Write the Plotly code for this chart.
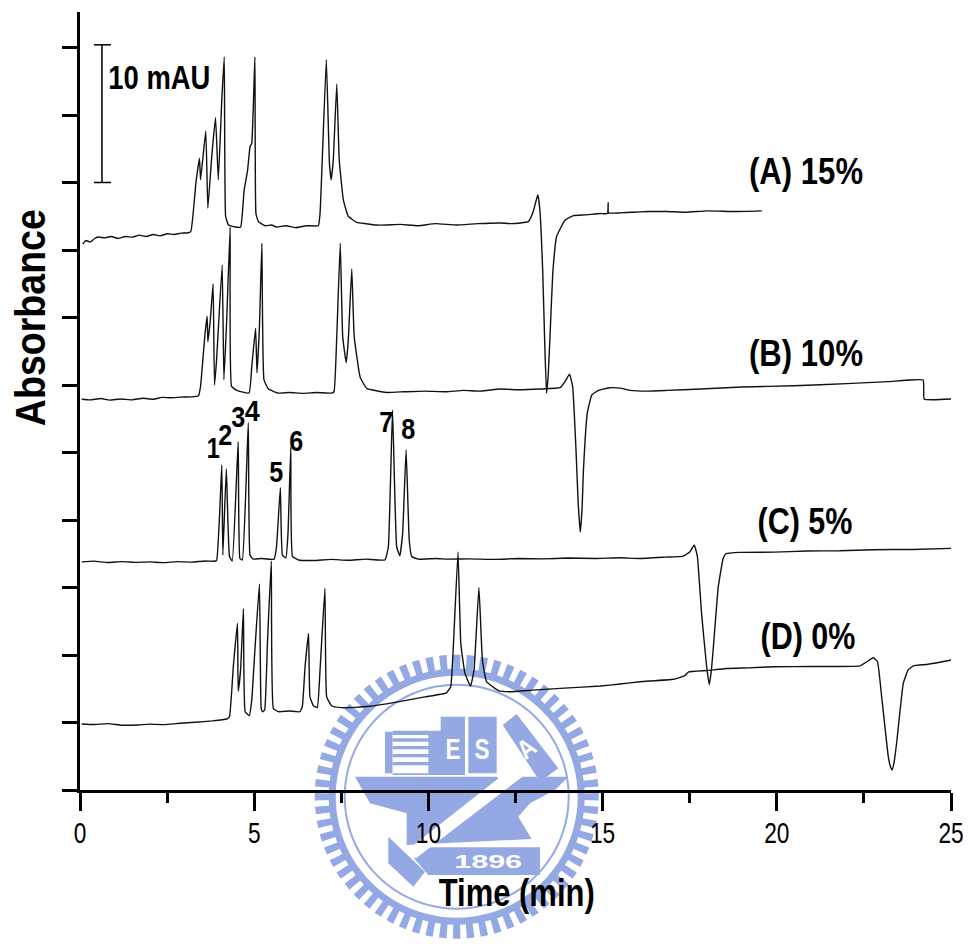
import math
import plotly.graph_objects as go

# ---- Electropherogram traces: time (min), absorbance (mAU, stacked offset) ----
time_a = [0.08,0.16,0.3,0.42,0.52,0.7,0.9,1.1,1.3,1.5,1.7,1.9,2.1,2.3,2.5,2.7,2.9,3.07,3.18,3.33,3.43,3.46,3.61,3.67,3.78,3.89,3.97,4.07,4.14,4.18,4.26,4.45,4.61,4.71,4.81,4.88,4.93,5.02,5.05,5.12,5.31,5.5,5.64,5.9,6.2,6.5,6.84,6.89,7.07,7.16,7.21,7.27,7.37,7.44,7.56,7.70,7.94,8.2,8.5,8.8,9.2,9.7,10.2,10.8,11.4,12.06,12.4,12.87,13.01,13.14,13.2,13.28,13.34,13.39,13.44,13.49,13.57,13.68,13.92,14.16,14.5,14.93,15.14,15.16,15.17,15.5,15.88,16.3,16.84,17.4,18.0,18.8,19.57]
abs_a = [40.44,40.7,40.6,40.85,40.96,40.9,41.0,40.85,41.0,40.95,41.1,41.0,41.15,41.05,41.2,41.15,41.25,41.26,41.36,45.06,46.8,45.2,48.8,43.1,46.9,49.8,45.2,51.1,54.3,42.5,41.85,41.7,41.7,44.4,45.9,47.65,47.9,54.3,42.7,42.1,41.8,41.85,41.7,41.8,41.65,41.8,41.8,42.7,54.1,46.4,45.2,46.7,52.3,46.7,43.7,42.5,42.05,41.95,41.85,41.85,41.9,41.8,41.95,41.85,41.95,42.0,41.95,42.1,42.85,44.1,42.96,38.5,33.0,29.4,30.8,33.6,38.3,41.0,42.2,42.55,42.6,42.7,42.7,43.5,42.75,42.75,42.8,42.85,42.85,42.8,42.9,42.85,42.9]

time_b = [0.05,0.3,0.6,0.85,1.15,1.5,1.8,2.1,2.35,2.58,2.9,3.2,3.40,3.46,3.59,3.65,3.67,3.74,3.82,3.86,3.92,4.08,4.13,4.21,4.31,4.35,4.50,4.85,4.93,5.04,5.08,5.15,5.22,5.28,5.41,5.69,6.0,6.4,6.8,7.22,7.29,7.37,7.47,7.54,7.64,7.70,7.80,7.87,8.04,8.23,8.80,9.3,9.9,10.5,11.0,11.5,12.06,12.6,13.2,13.78,13.92,14.05,14.14,14.24,14.30,14.36,14.41,14.45,14.56,14.69,14.88,15.21,15.55,15.79,16.3,16.84,17.8,19.0,20.5,22.0,23.2,24.2,24.23,25.0]
abs_b = [28.95,28.9,29.0,28.88,28.96,28.9,29.02,28.95,29.08,29.06,29.1,29.12,29.2,29.9,33.85,35.1,33.2,34.8,37.5,30.0,31.85,38.9,30.4,34.8,41.7,29.9,29.6,29.4,31.35,34.2,30.9,34.3,40.5,30.4,29.7,29.4,29.45,29.38,29.45,29.4,29.5,33.6,40.5,33.6,31.65,33.3,38.6,33.6,30.6,29.75,29.45,29.5,29.55,29.5,29.6,29.55,29.7,29.65,29.7,29.8,30.25,30.8,29.9,25.0,21.2,19.1,20.8,23.7,27.9,29.26,29.6,29.8,29.75,29.6,29.55,29.6,29.7,29.85,29.95,30.1,30.25,30.37,28.96,28.96]

time_c = [0.05,0.4,0.8,1.2,1.6,2.0,2.4,2.8,3.2,3.6,3.83,3.92,4.07,4.10,4.20,4.29,4.37,4.54,4.59,4.66,4.83,4.88,4.97,5.2,5.57,5.64,5.75,5.81,5.91,5.97,6.05,6.10,6.27,6.7,7.2,7.7,8.2,8.75,8.85,8.97,9.09,9.18,9.26,9.36,9.45,9.52,9.71,10.2,10.57,11.2,11.9,12.6,13.3,14.0,14.8,15.5,16.07,16.8,17.32,17.51,17.63,17.72,17.84,17.98,18.06,18.12,18.18,18.32,18.46,18.54,18.94,19.9,20.86,21.8,22.77,23.9,25.0]
abs_c = [16.9,16.95,16.85,16.92,16.86,16.9,16.84,16.92,16.88,16.96,16.94,17.0,24.07,17.4,23.8,17.3,16.96,25.8,17.15,17.04,27.2,17.4,17.1,17.15,17.1,18.0,22.4,17.4,17.2,19.0,25.4,17.3,17.04,17.0,17.08,17.02,17.1,17.04,18.0,28.15,18.0,17.35,19.0,25.2,18.5,17.3,17.1,17.15,17.1,17.12,17.08,17.15,17.12,17.18,17.15,17.2,17.15,17.25,17.33,17.65,18.15,17.3,13.1,9.3,7.8,8.8,10.6,15.05,17.15,17.5,17.6,17.62,17.7,17.72,17.8,17.82,17.9]

time_d = [0.05,0.4,0.8,1.2,1.63,2.0,2.4,2.87,3.3,3.8,4.21,4.29,4.40,4.52,4.54,4.61,4.69,4.74,4.86,4.93,5.02,5.15,5.20,5.24,5.30,5.38,5.49,5.55,5.69,6.0,6.31,6.38,6.46,6.56,6.60,6.70,6.81,6.89,7.03,7.08,7.22,7.51,7.9,8.32,8.8,9.28,9.9,10.52,10.64,10.72,10.85,10.93,11.05,11.21,11.31,11.45,11.55,11.67,12.01,12.34,13.0,13.9,14.93,15.5,16.07,17.03,17.36,17.46,18.0,18.56,19.2,19.9,21.0,22.39,22.58,22.77,22.89,23.01,23.2,23.26,23.31,23.37,23.44,23.63,23.77,23.92,24.3,24.68,25.0]
abs_d = [4.89,4.85,4.92,4.8,4.81,4.88,4.84,4.94,5.02,5.12,5.26,5.43,9.13,12.35,7.33,8.9,13.43,5.8,5.5,6.67,10.37,15.26,6.05,5.8,5.93,10.87,16.96,6.05,5.8,5.85,5.8,6.17,9.13,11.6,6.9,6.24,6.1,8.9,14.94,6.9,6.24,6.1,6.12,6.2,6.38,6.6,6.9,7.2,7.65,10.85,17.63,10.85,8.64,7.7,8.9,15.0,9.63,8.02,7.36,7.28,7.4,7.55,7.7,7.85,8.02,8.2,8.47,8.74,8.85,9.0,9.05,9.13,9.15,9.2,9.5,9.8,9.5,6.9,2.47,1.75,1.48,2.1,3.5,7.9,8.9,9.2,9.3,9.46,9.63]

scale_time = [0.40, 0.89, None, 0.63, 0.63, None, 0.40, 0.89]
scale_abs = [55.2, 55.2, None, 55.2, 45.0, None, 45.0, 45.0]

x_ticks = [0, 5, 10, 15, 20, 25]
peak_labels = ["1", "2", "3", "4", "5", "6", "7", "8"]
peak_label_time = [3.82, 4.19, 4.56, 4.94, 5.65, 6.2, 8.8, 9.44]
peak_label_abs = [25.4, 26.3, 27.7, 28.1, 23.6, 25.9, 27.3, 26.8]
series_labels = ["(A) 15%", "(B) 10%", "(C) 5%", "(D) 0%"]
series_label_time = [20.83, 20.85, 20.81, 20.9]
series_label_abs = [45.8, 32.3, 19.9, 11.4]

# ---- page geometry ----
W, H = 969, 948
L, R, T, B = 80, 951, 12, 790
SANS = "Liberation Sans, Arial, sans-serif"
WM = "#94A9E4"

def xp(px):
    return (px - L) / (R - L)

def yp(py):
    return (B - py) / (B - T)

def zoom_pt(zx, zy):
    return 310 + zx / 3, 640 + zy / 3

def poly(points):
    s = []
    for i, (zx, zy) in enumerate(points):
        px, py = zoom_pt(zx, zy)
        s.append(("M" if i == 0 else "L") + f"{xp(px):.5f},{yp(py):.5f}")
    return " ".join(s) + " Z"

def circle_path(r, n=96, cx=456.7, cy=796.7):
    s = []
    for i in range(n):
        a = 2 * math.pi * i / n
        s.append(("M" if i == 0 else "L") + f"{xp(cx + r * math.cos(a)):.5f},{yp(cy + r * math.sin(a)):.5f}")
    return " ".join(s) + " Z"

def teeth_path(r0, r1, count=64, cx=456.7, cy=796.7):
    parts = []
    for i in range(count):
        a = 2 * math.pi * i / count
        d = 2 * math.pi / count * 0.27
        pts = [(r0, a - d), (r1, a - d), (r1, a + d), (r0, a + d)]
        s = []
        for j, (r, t) in enumerate(pts):
            s.append(("M" if j == 0 else "L") + f"{xp(cx + r * math.cos(t)):.5f},{yp(cy + r * math.sin(t)):.5f}")
        parts.append(" ".join(s) + " Z")
    return " ".join(parts)

def wm_shape(path, color=WM, rule="evenodd"):
    return dict(type="path", xref="paper", yref="paper", path=path, fillcolor=color,
                line=dict(width=0), layer="below", fillrule=rule)

shapes = [
    wm_shape(teeth_path(124, 142)),
    wm_shape(circle_path(128) + " " + circle_path(121)),
    wm_shape(circle_path(113) + " " + circle_path(111)),
    wm_shape(poly([(225,275),(248,275),(248,400),(225,400)])),
    wm_shape(poly([(248,272),(392,272),(392,230),(465,230),(465,405),(248,405)])),
    wm_shape(poly([(475,230),(560,230),(560,400),(475,400)])),
    wm_shape(poly([(620,222),(745,385),(690,425),(578,255)])),
    wm_shape(poly([(135,410),(775,410),(735,450),(660,490),(625,530),(665,597),(290,615),(290,520),(180,490)])),
    wm_shape(poly([(350,622),(690,622),(690,705),(355,705),(312,655)])),
    wm_shape(poly([(235,590),(345,695),(310,740),(235,670)])),
    wm_shape(poly([(248,285),(355,285),(355,295),(248,295)]), "#FFFFFF"),
    wm_shape(poly([(248,305),(355,305),(355,318),(248,318)]), "#FFFFFF"),
    wm_shape(poly([(248,328),(355,328),(355,342),(248,342)]), "#FFFFFF"),
    wm_shape(poly([(248,352),(355,352),(355,366),(248,366)]), "#FFFFFF"),
    wm_shape(poly([(248,376),(355,376),(355,400),(248,400)]), "#FFFFFF"),
    wm_shape(poly([(610,380),(640,408),(318,655),(295,628)]), "#FFFFFF"),
    wm_shape(poly([(560,405),(610,380),(620,395),(570,430)]), "#FFFFFF"),
]

fig = go.Figure()
for name, t, a in [("(A) 15%", time_a, abs_a), ("(B) 10%", time_b, abs_b),
                   ("(C) 5%", time_c, abs_c), ("(D) 0%", time_d, abs_d)]:
    fig.add_trace(go.Scatter(x=t, y=a, mode="lines", name=name, showlegend=False,
                             line=dict(color="#111111", width=1.4, shape="spline", smoothing=0.35),
                             cliponaxis=False))
fig.add_trace(go.Scatter(x=scale_time, y=scale_abs, mode="lines", showlegend=False,
                         line=dict(color="#000000", width=1.5), name="10 mAU"))

annotations = []
def note(text, x, y, size, xref="x", yref="y", angle=0, color="#000000"):
    annotations.append(dict(text=text, x=x, y=y, xref=xref, yref=yref,
                            showarrow=False, textangle=angle, xanchor="center", yanchor="middle",
                            font=dict(family=SANS, size=size, color=color, weight="bold")))

for lab, t, a in zip(peak_labels, peak_label_time, peak_label_abs):
    note(lab, t, a, 30)
for lab, t, a in zip(series_labels, series_label_time, series_label_abs):
    note(lab, t, a, 36)
note("10 mAU", 2.296, 52.8, 34)
note("Time (min)", xp(516), yp(893), 38, "paper", "paper")
note("Absorbance", xp(30), yp(318), 42, "paper", "paper", angle=-90)
for txt, zx, zy, sz, ang in [("E", 430, 325, 30, 0), ("S", 517, 325, 30, 0),
                             ("A", 650, 325, 26, -38), ("1896", 535, 664, 19, 0)]:
    px, py = zoom_pt(zx, zy)
    note(txt, xp(px), yp(py), sz, "paper", "paper", angle=ang, color="#FFFFFF")

fig.update_layout(
    width=W, height=H, autosize=False,
    paper_bgcolor="#FFFFFF", plot_bgcolor="rgba(0,0,0,0)",
    margin=dict(l=L, r=W - R, t=T, b=H - B, pad=0, autoexpand=False),
    shapes=shapes, annotations=annotations, showlegend=False,
    xaxis=dict(range=[0, 25], tickvals=x_ticks, ticks="outside", ticklen=18, tickwidth=2.5,
               tickcolor="#000000", showgrid=False, zeroline=False, showline=True, automargin=False,
               linecolor="#000000", linewidth=3, ticklabelstandoff=-4,
               minor=dict(dtick=2.5, tick0=0, ticks="outside", ticklen=10, tickwidth=2.5, tickcolor="#000000", showgrid=False),
               tickfont=dict(family=SANS, size=30, color="#000000")),
    yaxis=dict(range=[0, (B - T) / 13.5], dtick=5, tick0=0, ticks="outside", ticklen=15, tickwidth=2.5,
               tickcolor="#000000", showgrid=False, zeroline=False, showline=True, automargin=False,
               linecolor="#000000", linewidth=3, showticklabels=False),
)

# Page margin off, and the reference's condensed lettering: real text fitted to its read widths.
POST = """
document.documentElement.style.margin='0';
document.documentElement.style.overflow='hidden';
document.body.style.margin='0';
document.body.style.overflow='hidden';
var fit = function(){
  var widths = {'(A) 15%':114,'(B) 10%':114,'(C) 5%':95,'(D) 0%':95,'10 mAU':102,'Time (min)':156,'Absorbance':217,
    '1':13,'2':14,'3':14,'4':15,'5':14,'6':14,'7':14,'8':14,'E':15,'S':15,'A':16,'1896':68};
  document.querySelectorAll('.annotation-text').forEach(function(t){
    var w = widths[t.textContent];
    if(w){ t.setAttribute('textLength', w); t.setAttribute('lengthAdjust','spacingAndGlyphs'); }
  });
  document.querySelectorAll('.xtick text').forEach(function(t){
    t.setAttribute('textLength', t.textContent.length*12.6); t.setAttribute('lengthAdjust','spacingAndGlyphs');
  });
};
fit();
"""
fig.write_html("out.html", post_script=POST, config={"displayModeBar": False})
